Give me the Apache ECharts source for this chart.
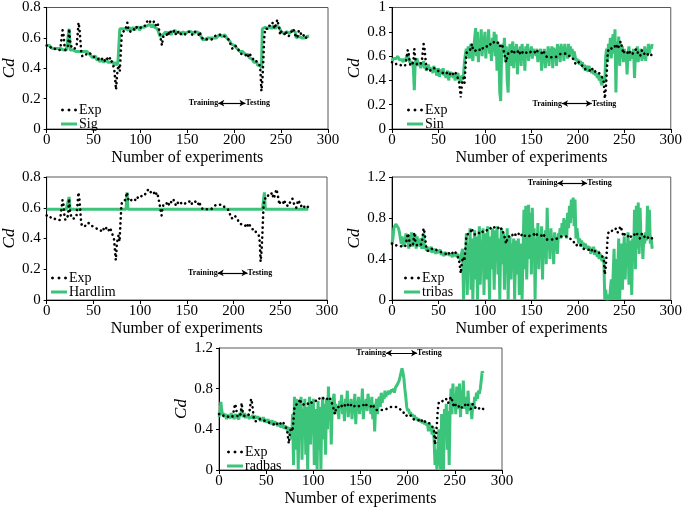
<!DOCTYPE html>
<html><head><meta charset="utf-8">
<script src="https://cdn.jsdelivr.net/npm/echarts@6/dist/echarts.min.js"></script>
<style>html,body{margin:0;padding:0;background:#fff}#c{width:685px;height:510px}</style>
</head><body><div id="c"></div>
<script>
// Experimental Cd (same in every panel), index = experiment number
const expValues = [
0.55,0.54,0.54,0.55,0.54,0.53,0.53,0.54,0.53,0.52,
0.53,0.52,0.52,0.53,0.52,0.55,0.60,0.65,0.62,0.55,
0.52,0.52,0.53,0.55,0.66,0.58,0.55,0.53,0.52,0.54,
0.53,0.52,0.55,0.62,0.70,0.66,0.58,0.50,0.48,0.48,
0.49,0.48,0.48,0.50,0.51,0.51,0.50,0.49,0.50,0.48,
0.49,0.48,0.47,0.48,0.47,0.46,0.47,0.46,0.45,0.46,
0.47,0.46,0.45,0.46,0.47,0.46,0.45,0.46,0.47,0.45,
0.46,0.44,0.40,0.33,0.26,0.35,0.40,0.42,0.38,0.50,
0.62,0.64,0.63,0.65,0.65,0.64,0.70,0.66,0.65,0.64,
0.65,0.63,0.66,0.67,0.66,0.65,0.67,0.66,0.67,0.66,
0.66,0.67,0.68,0.68,0.69,0.68,0.70,0.69,0.71,0.72,
0.71,0.70,0.70,0.69,0.71,0.70,0.68,0.69,0.70,0.68,
0.67,0.62,0.58,0.55,0.60,0.62,0.61,0.63,0.62,0.64,
0.63,0.62,0.64,0.65,0.64,0.63,0.65,0.64,0.62,0.63,
0.64,0.62,0.61,0.62,0.63,0.64,0.64,0.62,0.61,0.63,
0.64,0.65,0.64,0.64,0.63,0.62,0.64,0.64,0.63,0.64,
0.64,0.63,0.62,0.64,0.63,0.61,0.60,0.59,0.59,0.60,
0.59,0.59,0.58,0.59,0.59,0.60,0.59,0.60,0.60,0.61,
0.60,0.61,0.62,0.61,0.62,0.62,0.62,0.63,0.62,0.62,
0.61,0.60,0.61,0.60,0.59,0.58,0.56,0.55,0.53,0.52,
0.53,0.55,0.56,0.55,0.53,0.52,0.50,0.51,0.50,0.49,
0.48,0.48,0.49,0.48,0.47,0.48,0.50,0.49,0.48,0.47,
0.46,0.45,0.45,0.46,0.44,0.43,0.43,0.42,0.38,0.25,
0.32,0.45,0.60,0.66,0.67,0.65,0.66,0.68,0.69,0.67,
0.68,0.70,0.68,0.66,0.68,0.70,0.72,0.73,0.66,0.62,
0.64,0.65,0.63,0.64,0.62,0.64,0.63,0.64,0.61,0.60,
0.62,0.64,0.65,0.66,0.64,0.62,0.63,0.60,0.62,0.65,
0.64,0.63,0.61,0.60,0.61,0.62,0.60,0.61,0.60,0.61,
0.60];

const sigValues = [
0.55,0.55,0.54,0.55,0.54,0.54,0.53,0.54,0.53,0.53,
0.53,0.52,0.53,0.52,0.52,0.53,0.52,0.53,0.52,0.52,
0.53,0.52,0.52,0.53,0.66,0.52,0.51,0.51,0.52,0.51,
0.52,0.51,0.51,0.52,0.51,0.51,0.52,0.51,0.51,0.52,
0.51,0.52,0.51,0.51,0.52,0.50,0.49,0.48,0.50,0.47,
0.48,0.46,0.48,0.47,0.45,0.47,0.46,0.44,0.46,0.45,
0.46,0.44,0.45,0.43,0.46,0.44,0.45,0.43,0.44,0.45,
0.43,0.44,0.42,0.44,0.43,0.42,0.44,0.45,0.66,0.67,
0.65,0.66,0.67,0.65,0.66,0.67,0.66,0.65,0.67,0.66,
0.65,0.66,0.67,0.66,0.65,0.67,0.66,0.66,0.67,0.65,
0.66,0.67,0.67,0.68,0.67,0.68,0.67,0.68,0.69,0.68,
0.69,0.68,0.67,0.69,0.68,0.67,0.68,0.67,0.66,0.67,
0.66,0.61,0.62,0.60,0.62,0.63,0.62,0.64,0.63,0.62,
0.64,0.63,0.64,0.62,0.64,0.63,0.64,0.65,0.63,0.64,
0.63,0.64,0.63,0.64,0.62,0.64,0.63,0.64,0.63,0.64,
0.63,0.64,0.63,0.64,0.64,0.63,0.64,0.63,0.64,0.63,
0.64,0.63,0.64,0.63,0.64,0.63,0.59,0.58,0.60,0.59,
0.60,0.59,0.60,0.60,0.61,0.60,0.60,0.61,0.60,0.61,
0.61,0.60,0.61,0.61,0.62,0.61,0.62,0.61,0.62,0.61,
0.62,0.61,0.60,0.61,0.60,0.58,0.57,0.56,0.55,0.56,
0.55,0.54,0.55,0.53,0.54,0.52,0.51,0.52,0.50,0.51,
0.50,0.51,0.49,0.50,0.48,0.49,0.47,0.48,0.47,0.46,
0.46,0.44,0.45,0.43,0.44,0.42,0.43,0.41,0.42,0.40,
0.66,0.67,0.66,0.67,0.66,0.67,0.66,0.67,0.68,0.67,
0.66,0.67,0.68,0.67,0.66,0.68,0.67,0.69,0.67,0.66,
0.64,0.63,0.64,0.63,0.64,0.62,0.64,0.63,0.64,0.63,
0.64,0.63,0.65,0.64,0.65,0.64,0.60,0.59,0.60,0.61,
0.60,0.61,0.60,0.61,0.61,0.60,0.61,0.61,0.61,0.62,
0.61];

const sinValues = [
0.56,0.57,0.58,0.57,0.59,0.58,0.60,0.59,0.57,0.58,
0.56,0.57,0.55,0.58,0.56,0.57,0.60,0.62,0.58,0.55,
0.56,0.54,0.55,0.50,0.32,0.55,0.54,0.58,0.52,0.55,
0.53,0.50,0.55,0.52,0.56,0.50,0.52,0.48,0.50,0.53,
0.49,0.51,0.48,0.50,0.46,0.52,0.48,0.50,0.44,0.47,
0.50,0.43,0.47,0.49,0.45,0.50,0.44,0.47,0.42,0.46,
0.48,0.40,0.45,0.47,0.43,0.46,0.42,0.45,0.40,0.44,
0.43,0.46,0.40,0.42,0.38,0.44,0.41,0.45,0.55,0.62,
0.66,0.60,0.68,0.58,0.64,0.70,0.62,0.56,0.66,0.75,
0.83,0.60,0.80,0.55,0.72,0.64,0.82,0.60,0.76,0.68,
0.80,0.58,0.74,0.66,0.82,0.62,0.70,0.56,0.75,0.64,
0.80,0.60,0.78,0.48,0.72,0.62,0.30,0.23,0.65,0.70,
0.62,0.75,0.55,0.68,0.40,0.30,0.62,0.70,0.52,0.66,
0.72,0.50,0.68,0.58,0.70,0.45,0.66,0.60,0.68,0.52,
0.70,0.58,0.66,0.48,0.68,0.62,0.70,0.56,0.66,0.60,
0.68,0.58,0.66,0.62,0.65,0.60,0.66,0.55,0.64,0.62,
0.66,0.48,0.64,0.58,0.66,0.50,0.64,0.55,0.68,0.52,
0.66,0.58,0.68,0.50,0.67,0.60,0.66,0.52,0.70,0.58,
0.68,0.55,0.70,0.60,0.68,0.56,0.70,0.62,0.66,0.58,
0.70,0.60,0.68,0.62,0.66,0.58,0.64,0.60,0.56,0.58,
0.55,0.57,0.53,0.56,0.52,0.55,0.50,0.53,0.48,0.52,
0.50,0.47,0.52,0.48,0.50,0.46,0.49,0.45,0.48,0.44,
0.46,0.42,0.45,0.40,0.44,0.38,0.36,0.42,0.40,0.38,
0.60,0.66,0.55,0.70,0.62,0.75,0.58,0.72,0.78,0.62,
0.82,0.30,0.72,0.60,0.76,0.52,0.70,0.64,0.68,0.55,
0.66,0.58,0.64,0.45,0.62,0.68,0.56,0.64,0.60,0.58,
0.66,0.42,0.62,0.58,0.68,0.55,0.64,0.60,0.66,0.56,
0.65,0.58,0.68,0.56,0.66,0.60,0.70,0.62,0.68,0.66,
0.70];

const hardlimValues = [
0.59,0.59,0.59,0.59,0.59,0.59,0.59,0.59,0.59,0.59,
0.59,0.59,0.59,0.59,0.59,0.59,0.59,0.59,0.59,0.59,
0.59,0.59,0.59,0.59,0.67,0.59,0.59,0.59,0.59,0.59,
0.59,0.59,0.59,0.59,0.59,0.59,0.59,0.59,0.59,0.59,
0.59,0.59,0.59,0.59,0.59,0.59,0.59,0.59,0.59,0.59,
0.59,0.59,0.59,0.59,0.59,0.59,0.59,0.59,0.59,0.59,
0.59,0.59,0.59,0.59,0.59,0.59,0.59,0.59,0.59,0.59,
0.59,0.59,0.59,0.59,0.59,0.59,0.59,0.59,0.59,0.59,
0.59,0.59,0.59,0.59,0.59,0.59,0.70,0.59,0.59,0.59,
0.59,0.59,0.59,0.59,0.59,0.59,0.59,0.59,0.59,0.59,
0.59,0.59,0.59,0.59,0.59,0.59,0.59,0.59,0.59,0.59,
0.59,0.59,0.59,0.59,0.59,0.59,0.59,0.59,0.59,0.59,
0.59,0.59,0.59,0.59,0.59,0.59,0.59,0.59,0.59,0.59,
0.59,0.59,0.59,0.59,0.59,0.59,0.59,0.59,0.59,0.59,
0.59,0.59,0.59,0.59,0.59,0.59,0.59,0.59,0.59,0.59,
0.59,0.59,0.59,0.59,0.59,0.59,0.59,0.59,0.59,0.59,
0.59,0.59,0.59,0.59,0.59,0.59,0.59,0.59,0.59,0.59,
0.59,0.59,0.59,0.59,0.59,0.59,0.59,0.59,0.59,0.59,
0.59,0.59,0.59,0.59,0.59,0.59,0.59,0.59,0.59,0.59,
0.59,0.59,0.59,0.59,0.59,0.59,0.59,0.59,0.59,0.59,
0.59,0.59,0.59,0.59,0.59,0.59,0.59,0.59,0.59,0.59,
0.59,0.59,0.59,0.59,0.59,0.59,0.59,0.59,0.59,0.59,
0.59,0.59,0.59,0.59,0.59,0.59,0.59,0.59,0.59,0.59,
0.59,0.59,0.59,0.70,0.59,0.59,0.59,0.59,0.59,0.59,
0.59,0.59,0.59,0.59,0.59,0.59,0.59,0.59,0.59,0.59,
0.59,0.59,0.59,0.59,0.59,0.59,0.59,0.59,0.59,0.59,
0.59,0.59,0.59,0.59,0.59,0.59,0.59,0.59,0.59,0.59,
0.59,0.59,0.59,0.59,0.59,0.59,0.59,0.59,0.59,0.59,
0.59];

const tribasValues = [
0.55,0.60,0.70,0.72,0.74,0.75,0.74,0.70,0.66,0.60,
0.55,0.62,0.52,0.60,0.55,0.65,0.58,0.62,0.50,0.63,
0.56,0.66,0.52,0.60,0.55,0.64,0.50,0.62,0.55,0.58,
0.52,0.60,0.50,0.57,0.65,0.50,0.54,0.48,0.52,0.47,
0.50,0.48,0.52,0.46,0.49,0.47,0.50,0.45,0.48,0.46,
0.47,0.45,0.49,0.44,0.46,0.45,0.43,0.47,0.44,0.46,
0.44,0.46,0.43,0.45,0.44,0.42,0.45,0.43,0.44,0.46,
0.42,0.45,0.40,0.44,0.38,0.46,0.50,0.00,0.45,0.20,
0.65,0.05,0.55,0.30,0.70,0.10,0.60,0.00,0.45,0.68,
0.20,0.62,0.00,0.50,0.72,0.15,0.58,0.35,0.70,0.05,
0.55,0.65,0.20,0.72,0.40,0.00,0.62,0.30,0.70,0.50,
0.10,0.68,0.45,0.72,0.25,0.60,0.00,0.55,0.70,0.35,
0.65,0.10,0.58,0.40,0.70,0.00,0.52,0.62,0.20,0.55,
0.45,0.60,0.00,0.48,0.58,0.25,0.60,0.05,0.40,0.55,
0.00,0.45,0.88,0.30,0.92,0.20,0.60,0.93,0.40,0.85,
0.25,0.90,0.45,0.70,0.00,0.60,0.40,0.75,0.30,0.62,
0.50,0.72,0.20,0.60,0.45,0.68,0.35,0.90,0.50,0.62,
0.40,0.70,0.55,0.62,0.35,0.66,0.50,0.60,0.45,0.65,
0.62,0.70,0.60,0.75,0.65,0.80,0.62,0.78,0.60,0.85,
0.70,0.92,0.75,0.98,0.80,1.00,0.72,0.98,0.60,0.70,
0.62,0.55,0.60,0.52,0.58,0.54,0.56,0.50,0.55,0.52,
0.50,0.53,0.48,0.52,0.45,0.50,0.47,0.52,0.44,0.49,
0.46,0.42,0.48,0.40,0.45,0.44,0.38,0.42,0.40,0.00,
0.10,0.00,0.00,0.05,0.00,0.00,0.20,0.00,0.00,0.50,
0.00,0.40,0.00,0.00,0.60,0.00,0.30,0.55,0.10,0.45,
0.62,0.20,0.55,0.40,0.66,0.15,0.58,0.50,0.05,0.60,
0.40,0.88,0.30,0.92,0.50,0.95,0.45,0.90,0.55,0.65,
0.40,0.62,0.55,0.66,0.58,0.92,0.62,0.88,0.55,0.60,
0.50];

const radbasValues = [
0.52,0.56,0.67,0.58,0.54,0.56,0.52,0.55,0.50,0.54,
0.53,0.55,0.51,0.56,0.52,0.54,0.50,0.55,0.53,0.52,
0.54,0.50,0.56,0.53,0.60,0.55,0.52,0.56,0.51,0.54,
0.52,0.55,0.50,0.53,0.51,0.52,0.54,0.50,0.53,0.52,
0.51,0.53,0.50,0.52,0.48,0.51,0.49,0.52,0.47,0.50,
0.49,0.47,0.50,0.46,0.48,0.45,0.49,0.46,0.44,0.48,
0.45,0.47,0.43,0.46,0.44,0.45,0.42,0.45,0.43,0.41,
0.44,0.40,0.43,0.38,0.42,0.36,0.42,0.30,0.55,0.05,
0.72,0.20,0.70,0.45,0.00,0.68,0.30,0.72,0.10,0.60,
0.40,0.70,0.15,0.62,0.00,0.58,0.72,0.25,0.65,0.35,
0.70,0.05,0.60,0.45,0.00,0.68,0.20,0.62,0.00,0.55,
0.72,0.30,0.65,0.15,0.70,0.40,0.82,0.50,0.68,0.25,
0.62,0.70,0.75,0.55,0.65,0.58,0.62,0.50,0.68,0.60,
0.74,0.55,0.66,0.48,0.70,0.60,0.78,0.52,0.65,0.58,
0.70,0.50,0.66,0.62,0.75,0.45,0.68,0.60,0.72,0.55,
0.66,0.60,0.80,0.50,0.68,0.62,0.70,0.58,0.75,0.64,
0.66,0.55,0.72,0.50,0.65,0.38,0.62,0.70,0.55,0.68,
0.72,0.62,0.76,0.66,0.74,0.70,0.78,0.72,0.76,0.74,
0.78,0.75,0.76,0.79,0.77,0.80,0.76,0.81,0.80,0.84,
0.86,0.88,0.92,0.96,1.00,0.96,0.90,0.80,0.72,0.62,
0.58,0.60,0.55,0.57,0.53,0.55,0.52,0.54,0.50,0.52,
0.49,0.51,0.48,0.50,0.47,0.49,0.46,0.48,0.45,0.47,
0.44,0.46,0.38,0.45,0.43,0.40,0.35,0.42,0.30,0.05,
0.20,0.00,0.00,0.40,0.10,0.00,0.55,0.30,0.00,0.60,
0.40,0.65,0.20,0.58,0.05,0.60,0.80,0.55,0.85,0.62,
0.75,0.55,0.82,0.60,0.70,0.85,0.52,0.78,0.65,0.88,
0.60,0.72,0.66,0.55,0.78,0.62,0.58,0.66,0.50,0.64,
0.60,0.72,0.68,0.76,0.70,0.78,0.75,0.80,0.88,0.97,
0.95];

const modelNames = ['Sig', 'Sin', 'Hardlim', 'tribas', 'radbas'];
const modelValues = [sigValues, sinValues, hardlimValues, tribasValues, radbasValues];
const yMaxes = [0.8, 1, 0.8, 1.2, 1.2];
const ySteps = [0.2, 0.2, 0.2, 0.4, 0.4];
const xMax = 300, xStep = 50;
const splitText = ['Training', 'Testing'];
// arrow between Training / Testing in data units: [xStart, xEnd, y]
const splitArrows = [[183, 212, 0.17], [183, 215, 0.21], [183, 215, 0.176], [178, 210, 1.14], [177, 210, 1.15]];

// layout
const grids = [
  {left: 44, top: 6, width: 284, height: 123},
  {left: 392, top: 6, width: 281, height: 123},
  {left: 45, top: 177, width: 282, height: 123},
  {left: 392, top: 177, width: 281, height: 123},
  {left: 219, top: 348, width: 283, height: 122}
];
const legendPos = [
  {left: 61, top: 103}, {left: 407, top: 103}, {left: 51, top: 271},
  {left: 404, top: 271}, {left: 227, top: 445}
];

const FONT = 'Liberation Serif';
const GREEN = '#3cc47a';
const DOTS_ICON = 'path://M0,1a1,1 0 1,0 2,0a1,1 0 1,0 -2,0M4.33,1a1,1 0 1,0 2,0a1,1 0 1,0 -2,0M8.67,1a1,1 0 1,0 2,0a1,1 0 1,0 -2,0';
const toXY = arr => arr.map((v, i) => [i, v]);

const option = {animation: false, grid: [], xAxis: [], yAxis: [], series: [], legend: []};
grids.forEach((g, k) => {
  option.grid.push(Object.assign({show: true, borderColor: '#595959', borderWidth: 1}, g));
  option.xAxis.push({
    gridIndex: k, type: 'value', min: 0, max: xMax, interval: xStep,
    name: 'Number of experiments', nameLocation: 'middle', nameGap: 21,
    nameTextStyle: {fontFamily: FONT, fontSize: 16, color: '#000'},
    axisLine: {lineStyle: {color: '#000'}},
    axisTick: {length: 4, lineStyle: {color: '#000'}},
    axisLabel: {fontFamily: FONT, fontSize: 15, color: '#000', margin: 4},
    splitLine: {show: false}
  });
  option.yAxis.push({
    gridIndex: k, type: 'value', min: 0, max: yMaxes[k], interval: ySteps[k],
    name: 'Cd', nameLocation: 'middle', nameGap: 23,
    nameTextStyle: {fontFamily: FONT, fontStyle: 'italic', fontSize: 17, color: '#000'},
    axisLine: {show: true, lineStyle: {color: '#000'}},
    axisTick: {show: true, length: 3, lineStyle: {color: '#000'}},
    axisLabel: {fontFamily: FONT, fontSize: 15, color: '#000', margin: 6,
      formatter: v => String(+v.toFixed(1))},
    splitLine: {show: false}
  });
  const a = splitArrows[k];
  option.series.push({
    name: modelNames[k], type: 'line', xAxisIndex: k, yAxisIndex: k,
    data: toXY(modelValues[k]), symbol: 'none', z: 2,
    lineStyle: {color: GREEN, width: 3}, itemStyle: {color: GREEN}
  });
  option.series.push({
    name: 'Exp', type: 'line', xAxisIndex: k, yAxisIndex: k,
    data: toXY(expValues), symbol: 'none', z: 3,
    lineStyle: {color: '#000', width: 2.6, type: [0.1, 4.9], cap: 'round'},
    itemStyle: {color: '#000'},
    markLine: {
      silent: true, symbol: ['arrow', 'arrow'], symbolSize: [5, 6],
      lineStyle: {color: '#000', width: 1.2, type: 'solid'},
      label: {show: false},
      data: [[{coord: [a[0], a[2]]}, {coord: [a[1], a[2]]}]]
    },
    markPoint: {
      silent: true, symbol: 'circle', symbolSize: 0,
      label: {show: true, fontFamily: FONT, fontWeight: 'bold', fontSize: 8, color: '#000', distance: 0},
      data: [
        {coord: [a[0], a[2]], label: {position: 'left', formatter: splitText[0]}},
        {coord: [a[1], a[2]], label: {position: 'right', formatter: splitText[1]}}
      ]
    }
  });
  option.legend.push(Object.assign({
    orient: 'vertical', itemWidth: 16, itemHeight: 3, itemGap: 0,
    textStyle: {fontFamily: FONT, fontSize: 14, color: '#000', padding: [0, 0, 0, -3], lineHeight: 14},
    padding: 0, selectedMode: false,
    data: [
      {name: 'Exp', icon: DOTS_ICON, itemStyle: {color: '#000'}},
      {name: modelNames[k], icon: 'rect', itemStyle: {color: GREEN}}
    ]
  }, legendPos[k]));
});

const chart = echarts.init(document.getElementById('c'));
chart.setOption(option);
</script>
</body></html>
